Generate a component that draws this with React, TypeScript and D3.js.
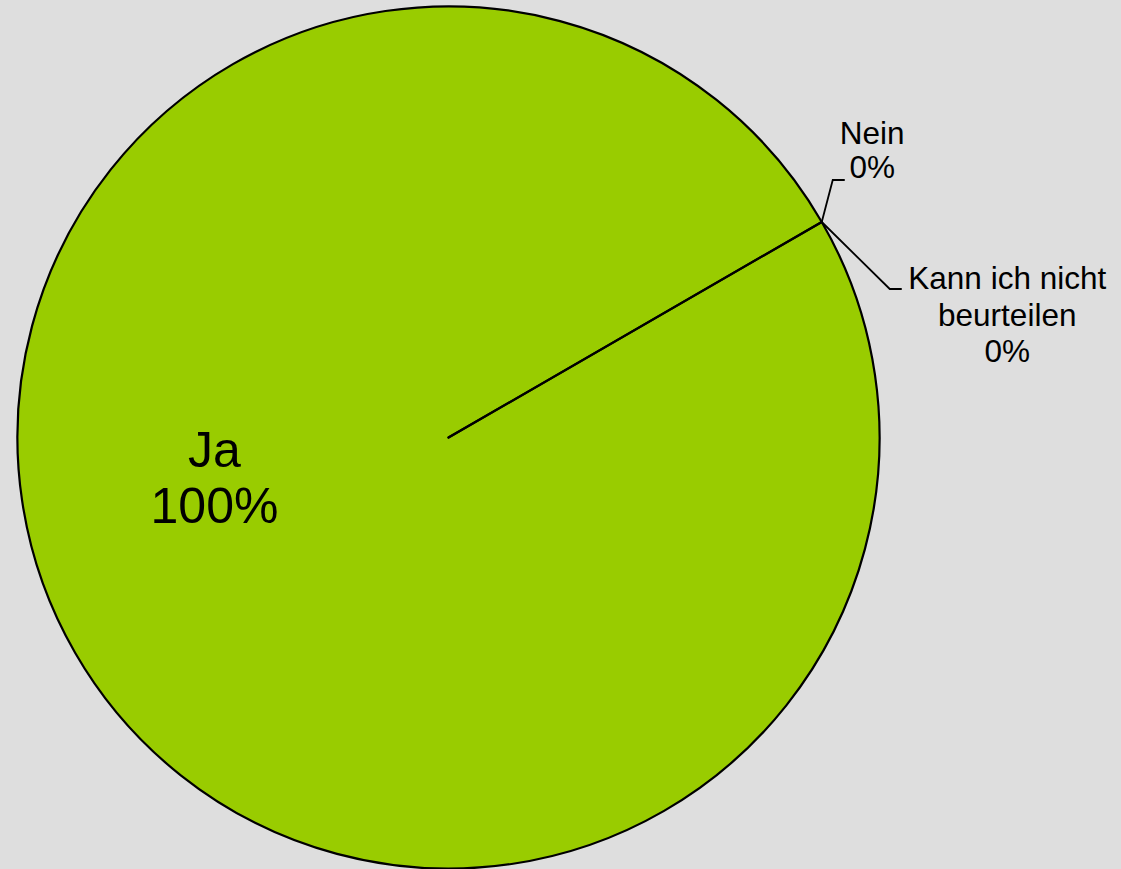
import React, { useEffect, useRef } from 'react';
import * as d3 from 'd3';

// answers and their shares in percent
const categories = ['Ja', 'Nein', 'Kann ich nicht beurteilen'];
const values = [100, 0, 0];
// how each label is broken into lines
const labelLines = [['Ja'], ['Nein'], ['Kann ich nicht', 'beurteilen']];

const App = () => {
  const svgRef = useRef<SVGSVGElement>(null);

  useEffect(() => {
    const width = 1121;
    const height = 869;
    const cx = 448.5;
    const cy = 437.5;
    const radius = 431;
    const font = '"Liberation Sans", Arial, Helvetica, sans-serif';

    const data = categories.map((c, i) => ({ name: c, value: values[i], lines: labelLines[i] }));
    const total = d3.sum(values);

    const svg = d3.select(svgRef.current);
    svg.selectAll('*').remove();
    svg.attr('width', width).attr('height', height);

    svg.append('rect')
      .attr('width', width)
      .attr('height', height)
      .attr('fill', '#dedede');

    const g = svg.append('g').attr('transform', `translate(${cx},${cy})`);

    const pie = d3.pie<any>()
      .value(d => d.value)
      .sort(null)
      .startAngle(Math.PI / 3)
      .endAngle(Math.PI / 3 + Math.PI * 2);
    const arcs = pie(data);

    const arc = d3.arc<any>().innerRadius(0).outerRadius(radius);

    g.selectAll('.slice')
      .data(arcs)
      .enter().append('path')
      .attr('class', 'slice')
      .attr('d', arc)
      .attr('fill', '#99cc00')
      .attr('stroke', '#000')
      .attr('stroke-width', 2.2)
      .attr('stroke-linejoin', 'round');

    const edge = (a: number) => [radius * Math.sin(a), -radius * Math.cos(a)];

    // big label inside the main slice
    const big = arcs[0];
    const bigG = g.append('g')
      .attr('font-family', font)
      .attr('font-size', 50)
      .attr('text-anchor', 'middle')
      .attr('fill', '#000');
    const bx = -234;
    bigG.append('text').attr('x', bx).attr('y', 29).text(big.data.lines[0]);
    bigG.append('text').attr('x', bx).attr('y', 85.5)
      .text(`${Math.round((big.data.value / total) * 100)}%`);

    // small slices: leader lines + labels outside
    const leaders = [
      null,
      { elbow: [11, -42], end: [23, -42], tx: 50.5, ty: [-78, -44] },
      { elbow: [68, 67], end: [80, 67], tx: 185.5, ty: [67, 104, 140] },
    ];

    arcs.forEach((a, i) => {
      const L = leaders[i];
      if (!L) return;
      const [ex, ey] = edge(a.startAngle);
      g.append('path')
        .attr('d', d3.line()([
          [ex, ey],
          [ex + L.elbow[0], ey + L.elbow[1]],
          [ex + L.end[0], ey + L.end[1]],
        ]))
        .attr('fill', 'none')
        .attr('stroke', '#000')
        .attr('stroke-width', 1.8);

      const lines = [...a.data.lines, `${Math.round((a.data.value / total) * 100)}%`];
      const tg = g.append('g')
        .attr('font-family', font)
        .attr('font-size', 31.5)
        .attr('text-anchor', 'middle')
        .attr('fill', '#000');
      lines.forEach((t, j) => {
        tg.append('text')
          .attr('x', ex + L.tx)
          .attr('y', ey + L.ty[j])
          .text(t);
      });
    });
  }, []);

  return (
    <svg ref={svgRef} style={{ position: 'absolute', left: 0, top: 0, display: 'block' }}></svg>
  );
};

export default App;
